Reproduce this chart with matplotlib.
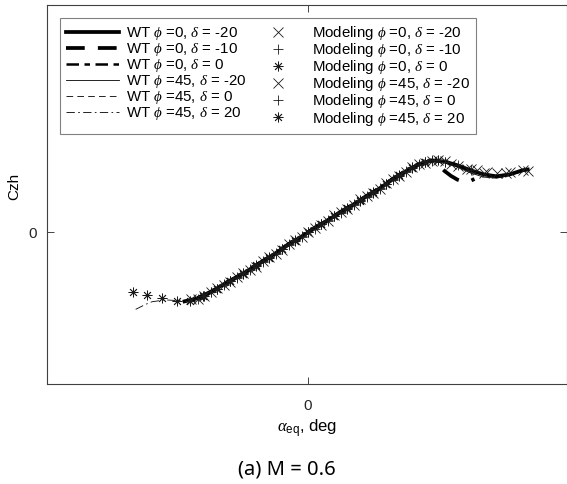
import numpy as np
import matplotlib.pyplot as plt

plt.rcParams['font.family'] = ['Liberation Sans', 'DejaVu Sans']
plt.rcParams['mathtext.fontset'] = 'custom'
plt.rcParams['mathtext.rm'] = 'Liberation Sans'
plt.rcParams['mathtext.it'] = 'Liberation Serif:italic'

# wind tunnel curves
wt1_x = [-4.75, -4.25, -3.75, -3.25, -2.75, -2.25, -1.75, -1.25, -0.75, -0.25, 0.25, 0.75, 1.25, 1.75,
         2.25, 2.75, 3.25, 3.75, 4.25, 4.75, 5.25, 5.75, 6.25, 6.75, 7.25, 7.75, 8.25, 8.45]
wt1_y = [-0.182, -0.174, -0.158, -0.137, -0.119, -0.098, -0.077, -0.055, -0.032, -0.011, 0.011, 0.032, 0.053, 0.074,
         0.095, 0.116, 0.140, 0.161, 0.179, 0.190, 0.187, 0.177, 0.164, 0.153, 0.148, 0.153, 0.164, 0.166]

wt2_x = [-4.25, -3.75, -3.25, -2.75, -2.25, -1.75, -1.25, -0.75, -0.25, 0.25, 0.75, 1.25, 1.75,
         2.25, 2.75, 3.25, 3.75, 4.25, 4.75, 5.0, 5.25, 5.5, 5.75, 6.0, 6.25, 6.4]
wt2_y = [-0.173, -0.157, -0.136, -0.118, -0.097, -0.076, -0.054, -0.031, -0.010, 0.012, 0.033, 0.054, 0.075,
         0.096, 0.117, 0.141, 0.162, 0.180, 0.189, 0.178, 0.162, 0.149, 0.139, 0.133, 0.136, 0.141]

wt3_x = [-4.25, -3.75, -3.25, -2.75, -2.25, -1.75, -1.25, -0.75, -0.25, 0.25, 0.75, 1.25, 1.75,
         2.25, 2.75, 3.25, 3.75, 4.25, 4.75, 5.25, 5.75]
wt3_y = [-0.174, -0.158, -0.137, -0.119, -0.098, -0.077, -0.055, -0.032, -0.011, 0.011, 0.032, 0.053, 0.074,
         0.095, 0.116, 0.140, 0.161, 0.179, 0.190, 0.187, 0.177]

wt4_x = wt1_x
wt4_y = [-0.181, -0.173, -0.157, -0.136, -0.118, -0.097, -0.076, -0.054, -0.031, -0.010, 0.012, 0.033, 0.054, 0.075,
         0.096, 0.117, 0.140, 0.160, 0.177, 0.187, 0.184, 0.172, 0.157, 0.146, 0.143, 0.150, 0.160, 0.163]

wt5_x = [-4.5, -4.0, -3.5, -3.0, -2.5, -2.0, -1.5, -1.0, -0.5, 0.0, 0.5, 1.0, 1.5, 2.0, 2.5, 3.0,
         3.5, 4.0, 4.5, 5.0, 5.5]
wt5_y = [-0.179, -0.167, -0.148, -0.128, -0.109, -0.088, -0.066, -0.044, -0.022, 0.000, 0.022, 0.043, 0.064,
         0.085, 0.106, 0.128, 0.151, 0.171, 0.186, 0.190, 0.183]

wt6_x = [-6.63, -6.25, -6.0, -5.5, -5.0, -4.5, -4.0, -3.5, -3.0, -2.5, -2.0, -1.5, -1.0, -0.5, 0.0, 0.5,
         1.0, 1.5, 2.0, 2.5, 3.0, 3.5, 4.0, 4.5, 5.0]
wt6_y = [-0.203, -0.190, -0.183, -0.178, -0.180, -0.178, -0.167, -0.148, -0.128, -0.109, -0.088, -0.066, -0.044,
         -0.022, 0.000, 0.022, 0.043, 0.064, 0.085, 0.106, 0.128, 0.151, 0.171, 0.186, 0.190]

# modeling points
m1_x = [-4.5, -4.0, -3.5, -3.0, -2.5, -2.0, -1.5, -1.0, -0.5, 0.0, 0.5, 1.0, 1.5, 2.0, 2.5, 3.0,
        3.5, 4.0, 4.5, 5.0, 5.5, 6.1, 6.5, 6.9, 7.6, 8.45]
m1_y = [-0.177, -0.169, -0.146, -0.130, -0.107, -0.090, -0.064, -0.046, -0.020, 0.002, 0.020, 0.045, 0.062,
        0.087, 0.104, 0.130, 0.149, 0.173, 0.184, 0.192, 0.181, 0.166, 0.165, 0.160, 0.158, 0.163]

m2_x = [-4.25, -3.75, -3.25, -2.75, -2.25, -1.75, -1.25, -0.75, -0.25, 0.25, 0.75, 1.25, 1.75,
        2.25, 2.75, 3.25, 3.75, 4.25, 4.75, 5.25, 5.75, 6.25]
m2_y = [-0.176, -0.156, -0.139, -0.117, -0.100, -0.075, -0.057, -0.030, -0.013, 0.013, 0.030, 0.055, 0.072,
        0.097, 0.114, 0.142, 0.159, 0.181, 0.188, 0.185, 0.178, 0.165]

m3_x = [-4.0, -3.5, -3.0, -2.5, -2.0, -1.5, -1.0, -0.5, 0.0, 0.5, 1.0, 1.5, 2.0, 2.5, 3.0, 3.5,
        4.0, 4.5, 5.0]
m3_y = [-0.168, -0.149, -0.127, -0.110, -0.087, -0.067, -0.043, -0.023, 0.001, 0.021, 0.044, 0.063, 0.086,
        0.105, 0.129, 0.150, 0.172, 0.185, 0.191]

m4_x = [-4.25, -3.75, -3.25, -2.75, -2.25, -1.75, -1.25, -0.75, -0.25, 0.25, 0.75, 1.25, 1.75,
        2.25, 2.75, 3.25, 3.75, 4.25, 4.75, 5.25, 5.75, 6.25, 6.75, 7.25, 7.75, 8.25]
m4_y = [-0.175, -0.157, -0.138, -0.118, -0.099, -0.076, -0.056, -0.031, -0.012, 0.012, 0.031, 0.054, 0.073,
        0.096, 0.115, 0.141, 0.160, 0.180, 0.189, 0.188, 0.176, 0.166, 0.158, 0.156, 0.160, 0.165]

m5_x = [-3.75, -3.25, -2.75, -2.25, -1.75, -1.25, -0.75, -0.25, 0.25, 0.75, 1.25, 1.75, 2.25,
        2.75, 3.25, 3.75, 4.25, 4.75, 5.25]
m5_y = [-0.157, -0.136, -0.120, -0.097, -0.078, -0.054, -0.033, -0.010, 0.010, 0.033, 0.052, 0.075, 0.094,
        0.117, 0.139, 0.162, 0.178, 0.191, 0.186]

m6_x = [-6.75, -6.2, -5.6, -5.05, -4.55, -4.05, -3.5, -3.0, -2.5, -2.0, -1.5, -1.0, -0.5, 0.0, 0.5,
        1.0, 1.5, 2.0, 2.5, 3.0, 3.5, 4.0, 4.5]
m6_y = [-0.158, -0.164, -0.174, -0.182, -0.182, -0.169, -0.150, -0.127, -0.108, -0.089, -0.065, -0.045, -0.021,
        0.001, 0.023, 0.042, 0.065, 0.084, 0.107, 0.127, 0.152, 0.170, 0.187]

wt_labels = [r'WT $\phi$ =0, $\delta$ = -20', r'WT $\phi$ =0, $\delta$ = -10', r'WT $\phi$ =0, $\delta$ = 0',
             r'WT $\phi$ =45, $\delta$ = -20', r'WT $\phi$ =45, $\delta$ = 0', r'WT $\phi$ =45, $\delta$ = 20']
mod_labels = [r'Modeling $\phi$ =0, $\delta$ = -20', r'Modeling $\phi$ =0, $\delta$ = -10',
              r'Modeling $\phi$ =0, $\delta$ = 0', r'Modeling $\phi$ =45, $\delta$ = -20',
              r'Modeling $\phi$ =45, $\delta$ = 0', r'Modeling $\phi$ =45, $\delta$ = 20']

fig = plt.figure(figsize=(5.67, 4.84), dpi=100)
ax = fig.add_axes([47 / 567, 100 / 484, 520 / 567, 379 / 484])

ax.plot(wt1_x, wt1_y, 'k-', lw=2.7, label=wt_labels[0])
ax.plot(wt2_x, wt2_y, 'k-', lw=2.7, dashes=(5, 3.5), label=wt_labels[1])
ax.plot(wt3_x, wt3_y, 'k-', lw=1.8, dashes=(5, 2.2, 2.2, 2.2), label=wt_labels[2])
ax.plot(wt4_x, wt4_y, 'k-', lw=0.6, label=wt_labels[3])
ax.plot(wt5_x, wt5_y, 'k-', lw=0.6, dashes=(8, 5), label=wt_labels[4])
ax.plot(wt6_x, wt6_y, 'k-', lw=0.6, dashes=(10, 4, 2, 4), label=wt_labels[5])

mk = dict(ls='none', color='#1a1a1a', mew=0.6, ms=7)
ax.plot(m1_x, m1_y, marker='x', label=mod_labels[0], **mk)
ax.plot(m2_x, m2_y, marker='+', label=mod_labels[1], **mk)
ax.plot(m3_x, m3_y, marker=(8, 2, 0), label=mod_labels[2], **mk)
ax.plot(m4_x, m4_y, marker='x', label=mod_labels[3], **mk)
ax.plot(m5_x, m5_y, marker='+', label=mod_labels[4], **mk)
ax.plot(m6_x, m6_y, marker=(8, 2, 0), label=mod_labels[5], **mk)

ax.set_xlim(-10.04, 9.96)
ax.set_ylim(-0.4, 0.6)
ax.set_xticks([0])
ax.set_yticks([0])
ax.tick_params(direction='in', length=5, width=0.6, colors='#262626', labelsize=11,
               top=True, right=True, pad=11)
ax.tick_params(axis='y', pad=7)
for s in ax.spines.values():
    s.set_color('#404040')
    s.set_linewidth(0.8)

ax.set_xlabel(r'$\alpha_{\mathrm{eq}}$, deg', fontsize=12, labelpad=3)
ax.set_ylabel('Czh', fontsize=11)
ax.yaxis.set_label_coords(-0.049, 0.52)

leg = ax.legend(ncol=2, loc='upper left', bbox_to_anchor=(13 / 520, 366 / 379), borderaxespad=0,
                fontsize=10.8, handlelength=3.55, handletextpad=0.45, columnspacing=0.35,
                labelspacing=-0.06, borderpad=0.4, fancybox=False, framealpha=1)
leg.get_frame().set_edgecolor('#808080')
leg.get_frame().set_linewidth(0.8)

fig.text(287 / 567, 1 - 469 / 484, '(a) M = 0.6', fontsize=14.5, ha='center', va='center',
         family=['Noto Sans', 'DejaVu Sans'])

fig.savefig('out.png', dpi=100)
